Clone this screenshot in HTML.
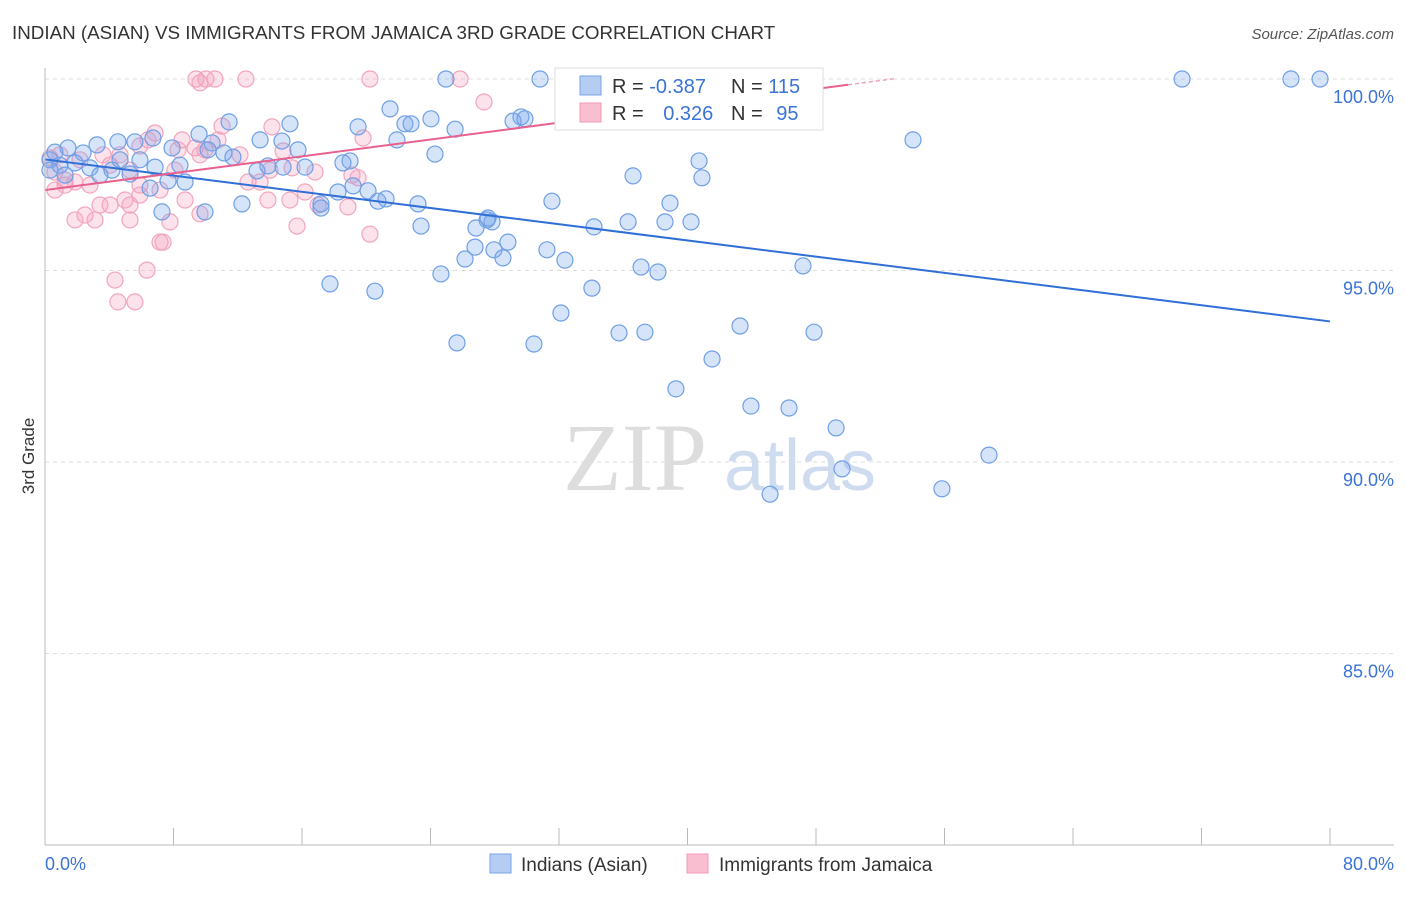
<!DOCTYPE html>
<html><head><meta charset="utf-8"><style>
body{margin:0;background:#fff;font-family:"Liberation Sans",sans-serif;}
svg text{font-family:"Liberation Sans",sans-serif;}
</style></head><body>
<svg width="1406" height="892">
<text x="12" y="39" font-size="18.8" fill="#333">INDIAN (ASIAN) VS IMMIGRANTS FROM JAMAICA 3RD GRADE CORRELATION CHART</text>
<text x="1394" y="39" font-size="15" fill="#555" font-style="italic" text-anchor="end">Source: ZipAtlas.com</text>
<g id="grid"></g>
<text x="635" y="490" font-size="96" fill="#ddd" style="font-family:'Liberation Serif',serif" text-anchor="middle">ZIP</text>
<text x="800" y="490" font-size="72" fill="#cfdcf0" text-anchor="middle">atlas</text>
<g id="pts"></g>
<g id="lines"></g>
<line x1="45" y1="68" x2="45" y2="845" stroke="#bbb"/>
<line x1="45" y1="845" x2="1394" y2="845" stroke="#bbb"/>
<text x="34" y="456" font-size="17" fill="#333" text-anchor="middle" transform="rotate(-90 34 456)">3rd Grade</text>
<text x="45" y="870" font-size="18" fill="#3b73d6">0.0%</text>
<text x="1394" y="870" font-size="18" fill="#3b73d6" text-anchor="end">80.0%</text>
<g>
<rect x="555" y="68" width="268" height="62" fill="#fff" stroke="#ddd"/>
<rect x="580" y="76" width="21" height="19" fill="#b5cdf3" stroke="#7aa5e6"/>
<rect x="580" y="103" width="21" height="19" fill="#f9bfd0" stroke="#f29ab4"/>
<text x="612" y="93" font-size="20" fill="#333">R = <tspan fill="#3b73d6">-0.387</tspan></text>
<text x="731" y="93" font-size="20" fill="#333">N = <tspan fill="#3b73d6">115</tspan></text>
<text x="612" y="120" font-size="20" fill="#333">R = <tspan fill="#3b73d6" dx="14">0.326</tspan></text>
<text x="731" y="120" font-size="20" fill="#333">N = <tspan fill="#3b73d6" dx="8">95</tspan></text>
</g>
<g>
<rect x="490" y="854" width="21" height="19" fill="#b5cdf3" stroke="#7aa5e6"/>
<text x="521" y="871" font-size="19" fill="#333">Indians (Asian)</text>
<rect x="687" y="854" width="21" height="19" fill="#f9bfd0" stroke="#f29ab4"/>
<text x="719" y="871" font-size="19" fill="#333">Immigrants from Jamaica</text>
</g>
</svg>
<script>
const yTicks=[100,95,90,85];
const xTicks=[0,8,16,24,32,40,48,56,64,72,80];
const bluePx=[[1182,79],[1291,79],[1320,79],[913,140],[446,79],[540,79],[797,79],[390,109],[431,119],[405,124],[411,124],[455,129],[513,121],[521,117],[525,119],[397,140],[358,127],[290,124],[229,122],[260,140],[282,141],[298,150],[435,154],[350,161],[343,163],[338,192],[353,186],[368,191],[378,201],[386,199],[418,204],[321,204],[321,208],[242,204],[305,167],[268,166],[283,167],[257,171],[233,157],[224,153],[212,143],[199,134],[172,148],[153,138],[135,142],[118,142],[97,145],[83,153],[68,148],[55,152],[50,160],[60,165],[75,163],[90,168],[112,170],[130,174],[155,167],[168,181],[185,182],[150,188],[162,212],[205,212],[633,176],[699,161],[702,178],[670,203],[552,201],[594,227],[628,222],[665,222],[691,222],[487,220],[492,222],[476,228],[475,247],[508,242],[494,250],[503,258],[547,250],[565,260],[465,259],[441,274],[330,284],[375,291],[592,288],[641,267],[658,272],[803,266],[561,313],[619,333],[645,332],[740,326],[814,332],[457,343],[534,344],[712,359],[676,389],[751,406],[789,408],[836,428],[842,469],[989,455],[942,489],[770,494],[180,165],[208,150],[120,160],[140,160],[100,175],[65,175],[50,170],[421,226],[488,218]];
const pinkPx=[[196,79],[206,79],[215,79],[246,79],[370,79],[460,79],[200,83],[735,79],[484,102],[272,127],[222,126],[182,140],[155,133],[148,140],[140,146],[178,150],[195,148],[205,150],[218,140],[240,155],[283,151],[363,138],[120,155],[103,155],[80,160],[60,155],[50,158],[55,172],[65,180],[75,182],[90,185],[110,165],[130,170],[140,185],[160,190],[175,170],[200,155],[248,182],[270,170],[292,168],[315,172],[352,175],[358,178],[305,192],[290,200],[268,200],[260,182],[185,200],[140,195],[125,200],[110,205],[100,205],[130,205],[85,215],[75,220],[95,220],[130,220],[170,222],[200,214],[160,242],[163,242],[147,270],[115,280],[118,302],[135,302],[297,226],[370,234],[348,207],[318,205],[55,190],[65,185]];
const blueX=bluePx.map(p=>+((p[0]-45)/1285*80).toFixed(2));
const blueY=bluePx.map(p=>+(100-(p[1]-79)/38.3).toFixed(2));
const pinkX=pinkPx.map(p=>+((p[0]-45)/1285*80).toFixed(2));
const pinkY=pinkPx.map(p=>+(100-(p[1]-79)/38.3).toFixed(2));
const blueTrend=[[0,97.9],[80,93.67]];
const pinkTrend=[[0,97.1],[50,99.85]];
const NS="http://www.w3.org/2000/svg";
const sx=v=>45+v/80*1285, sy=v=>79+(100-v)*38.3;
function mk(t,a,p){const e=document.createElementNS(NS,t);for(const k in a)e.setAttribute(k,a[k]);p.appendChild(e);return e;}
const grid=document.getElementById('grid');
yTicks.forEach(v=>{
 const l=mk('line',{x1:45,x2:1394,y1:sy(v),y2:sy(v),stroke:'#ddd','stroke-dasharray':'4 4'},grid);
 
 
 const t=mk('text',{x:1394,y:sy(v)+24,'font-size':18,fill:'#3b73d6','text-anchor':'end'},grid);
 t.textContent=v.toFixed(1)+'%';
 
 
});
xTicks.forEach(v=>{
 const l=mk('line',{x1:sx(v),x2:sx(v),y1:828,y2:845,stroke:'#bbb'},grid);
 
 
});
const pts=document.getElementById('pts');
pinkX.forEach((x,i)=>{
 const c=mk('circle',{cx:sx(x),cy:sy(pinkY[i]),r:8,fill:'rgba(244,160,188,0.3)',stroke:'#f2a5bd','stroke-width':1.2},pts);
 
 
});
blueX.forEach((x,i)=>{
 const c=mk('circle',{cx:sx(x),cy:sy(blueY[i]),r:8,fill:'rgba(120,165,235,0.3)',stroke:'#6f9fe6','stroke-width':1.2},pts);
 
 
});
const lg=document.getElementById('lines');
const bl=mk('line',{x1:sx(blueTrend[0][0]),y1:sy(blueTrend[0][1]),x2:sx(blueTrend[1][0]),y2:sy(blueTrend[1][1]),stroke:'#2f6fd6','stroke-width':2},lg);


const pl=mk('line',{x1:sx(pinkTrend[0][0]),y1:sy(pinkTrend[0][1]),x2:sx(pinkTrend[1][0]),y2:sy(pinkTrend[1][1]),stroke:'#e8618f','stroke-width':2},lg);


const slope=(pinkTrend[1][1]-pinkTrend[0][1])/(pinkTrend[1][0]-pinkTrend[0][0]);
const pd=mk('line',{x1:sx(50),y1:sy(pinkTrend[1][1]),x2:sx(53),y2:sy(pinkTrend[1][1]+3*slope),stroke:'#f0a0b8','stroke-width':1.5,'stroke-dasharray':'4 3'},lg);


</script>
</body></html>
